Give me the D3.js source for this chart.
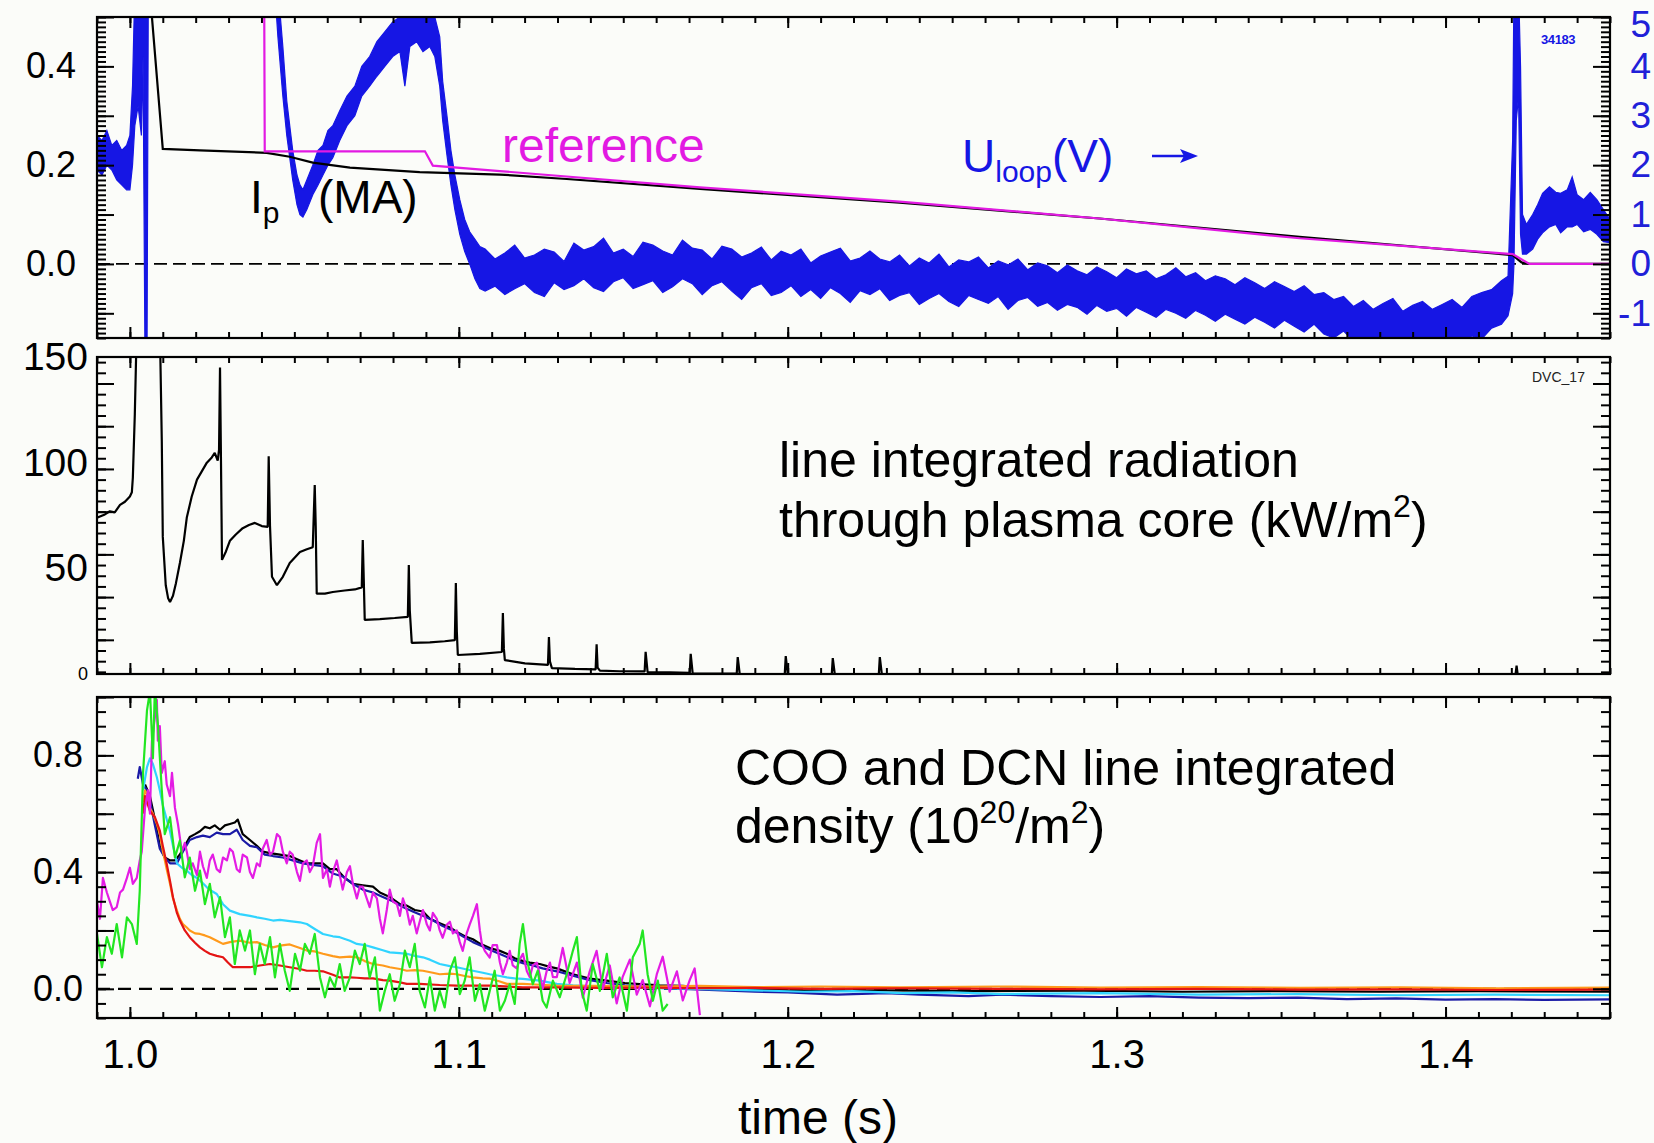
<!DOCTYPE html>
<html>
<head>
<meta charset="utf-8">
<script src="https://cdnjs.cloudflare.com/ajax/libs/d3/7.8.5/d3.min.js"></script>
<style>
body { margin: 0; background: #fbfcf9; }
svg { display: block; font-family: "Liberation Sans", Arial, sans-serif; }
</style>
</head>
<body>
<div id="chart"></div>
<script>
// ---- tick labels ----
var timeTicks = [1.0, 1.1, 1.2, 1.3, 1.4];
var ipTicks = [0.0, 0.2, 0.4];
var uloopTicks = [-1, 0, 1, 2, 3, 4, 5];
var radTicks = [0, 50, 100, 150];
var densTicks = [0.0, 0.4, 0.8];

// ---- top panel: plasma current (MA) and preprogrammed reference ----
var ipTrace = [[1.0060,0.55],[1.0067,0.50],[1.0100,0.233],[1.0213,0.230],[1.0416,0.225],[1.0486,0.217],
  [1.0556,0.205],[1.0669,0.195],[1.0881,0.186],[1.1125,0.181],[1.1328,0.172],[1.1733,0.152],[1.2340,0.124],
  [1.2948,0.092],[1.3556,0.055],[1.4204,0.018],[1.4231,0.003],[1.4255,0.0],[1.45,0.0]];

var refTrace = [[1.0408,0.6],[1.0410,0.228],[1.0897,0.228],[1.0921,0.199],[1.1125,0.188],[1.1733,0.155],
  [1.2340,0.126],[1.2948,0.092],[1.3556,0.052],[1.4204,0.020],[1.4255,0.0],[1.45,0.0]];

// loop voltage (V): [time, low edge, high edge] of the noisy trace
var uloopBand = [[0.9900,1.9,2.6],[0.9915,1.8,2.5],[0.9930,2.0,2.7],[0.9945,1.9,2.4],[0.9960,1.7,2.5],
  [0.9975,1.6,2.3],[0.9990,1.5,2.4],[1.0000,1.5,2.6],[1.0008,2.0,3.6],[1.0015,2.8,5.6],[1.0025,3.2,5.6],
  [1.0035,2.6,5.6],[1.0040,4.2,5.6],[1.0046,-2.0,5.6],[1.0052,-2.0,5.6],[1.0056,5.6,5.6],[1.0440,5.6,5.6],
  [1.0450,4.6,5.6],[1.0465,3.4,4.4],[1.0477,2.6,3.3],[1.0495,1.7,2.3],[1.0508,1.2,1.8],[1.0517,1.0,1.6],
  [1.0526,0.95,1.5],[1.0538,1.1,1.7],[1.0556,1.4,2.0],[1.0572,1.6,2.3],[1.0587,1.8,2.4],[1.0602,2.0,2.7],
  [1.0617,2.15,2.8],[1.0638,2.5,3.1],[1.0660,2.8,3.4],[1.0684,3.0,3.6],[1.0705,3.4,4.0],[1.0729,3.6,4.2],
  [1.0751,3.8,4.5],[1.0775,4.0,4.7],[1.0799,4.2,4.9],[1.0821,4.3,5.0],[1.0836,3.6,5.1],[1.0851,4.4,5.2],
  [1.0872,4.5,5.3],[1.0891,4.3,5.1],[1.0912,4.4,5.2],[1.0927,4.2,5.0],[1.0942,3.6,4.6],[1.0951,2.9,3.7],
  [1.0964,2.2,3.0],[1.0976,1.6,2.3],[1.0988,1.1,1.8],[1.1003,0.6,1.3],[1.1018,0.25,0.9],[1.1033,0.0,0.65],
  [1.1049,-0.3,0.5],[1.1064,-0.5,0.35],
  [1.108,-0.55,0.30],[1.111,-0.45,0.10],[1.114,-0.62,0.22],[1.117,-0.50,0.38],[1.120,-0.40,0.12],
  [1.123,-0.58,0.18],[1.126,-0.66,0.30],[1.129,-0.38,0.24],[1.132,-0.52,0.05],[1.135,-0.44,0.42],
  [1.138,-0.30,0.28],[1.141,-0.48,0.35],[1.144,-0.56,0.52],[1.147,-0.36,0.22],[1.150,-0.28,0.30],
  [1.153,-0.50,0.15],[1.156,-0.42,0.44],[1.159,-0.34,0.38],[1.162,-0.58,0.26],[1.165,-0.46,0.18],
  [1.168,-0.30,0.48],[1.171,-0.40,0.32],[1.174,-0.62,0.28],[1.177,-0.44,0.10],[1.180,-0.36,0.36],
  [1.183,-0.55,0.30],[1.186,-0.72,0.14],[1.189,-0.48,0.22],[1.192,-0.40,0.34],[1.195,-0.64,0.08],
  [1.198,-0.58,0.26],[1.201,-0.44,0.18],[1.204,-0.66,0.30],[1.207,-0.52,0.02],[1.210,-0.70,0.16],
  [1.213,-0.48,0.24],[1.216,-0.60,0.32],[1.219,-0.78,0.06],[1.222,-0.54,0.12],[1.225,-0.62,0.26],
  [1.228,-0.50,0.10],[1.231,-0.74,0.04],[1.234,-0.64,0.18],[1.237,-0.58,-0.04],[1.240,-0.82,0.12],
  [1.243,-0.70,0.02],[1.246,-0.60,0.20],[1.249,-0.76,-0.06],[1.252,-0.86,0.08],[1.255,-0.64,0.04],
  [1.258,-0.72,0.14],[1.261,-0.80,-0.08],[1.264,-0.66,0.06],[1.267,-0.92,-0.02],[1.270,-0.74,0.10],
  [1.273,-0.68,-0.12],[1.276,-0.86,0.02],[1.279,-0.78,-0.04],[1.282,-0.94,-0.18],[1.285,-0.82,-0.02],
  [1.288,-0.88,-0.14],[1.291,-1.02,-0.22],[1.294,-0.84,-0.06],[1.297,-0.96,-0.16],[1.300,-0.90,-0.28],
  [1.303,-1.06,-0.10],[1.306,-0.88,-0.20],[1.309,-0.98,-0.14],[1.312,-1.08,-0.30],[1.315,-0.92,-0.22],
  [1.318,-1.00,-0.08],[1.321,-1.10,-0.26],[1.324,-0.94,-0.18],[1.327,-1.04,-0.34],[1.330,-1.16,-0.24],
  [1.333,-1.02,-0.30],[1.336,-1.12,-0.42],[1.339,-1.22,-0.28],[1.342,-1.08,-0.38],[1.345,-1.18,-0.50],
  [1.348,-1.30,-0.36],[1.351,-1.14,-0.46],[1.354,-1.26,-0.56],[1.357,-1.38,-0.44],[1.360,-1.22,-0.62],
  [1.363,-1.42,-0.58],[1.366,-1.50,-0.72],[1.369,-1.36,-0.66],[1.372,-1.56,-0.86],[1.375,-1.62,-0.74],
  [1.378,-1.48,-0.92],[1.381,-1.60,-0.80],[1.384,-1.66,-0.70],[1.387,-1.54,-0.96],[1.390,-1.62,-0.84],
  [1.393,-1.58,-0.76],[1.396,-1.66,-0.92],[1.399,-1.52,-0.82],[1.402,-1.64,-0.72],[1.405,-1.58,-0.88],
  [1.408,-1.46,-0.66],[1.411,-1.52,-0.58],[1.414,-1.30,-0.52],[1.417,-1.22,-0.34],[1.419,-1.05,-0.25],
  [1.4204,-0.6,2.5],[1.4208,0.0,5.6],[1.4215,2.9,5.6],[1.4222,3.4,5.6],[1.4228,0.6,4.0],[1.4234,0.2,1.0],
  [1.4246,0.2,0.8],[1.4265,0.3,1.0],[1.4280,0.5,1.2],[1.4295,0.63,1.43],[1.4316,0.75,1.56],[1.4335,0.8,1.45],
  [1.4350,0.63,1.43],[1.4370,0.75,1.5],[1.4385,0.75,1.76],[1.4400,0.8,1.4],[1.4420,0.65,1.3],[1.4440,0.7,1.45],
  [1.4460,0.6,1.3],[1.4480,0.45,1.1],[1.4500,0.43,0.9]];

// ---- middle panel: line integrated radiation (kW/m2) ----
var radTrace = [[0.9900,74],[0.9924,75.5],[0.9939,77],[0.9954,76.5],[0.9970,80],[0.9985,81.5],[1.0000,84],
  [1.0006,86],[1.0009,93],[1.0015,123],[1.0021,165],[1.0091,165],[1.0097,110],[1.0100,65],[1.0109,42],
  [1.0116,36],[1.0122,34],[1.0131,37],[1.0140,43],[1.0152,52.5],[1.0164,63],[1.0173,74],[1.0188,84],
  [1.0204,92],[1.0219,96],[1.0234,100],[1.0249,102.5],[1.0258,104.6],[1.0267,101],[1.0271,106],[1.0274,145],
  [1.0277,100],[1.0280,54],[1.0292,58],[1.0304,63],[1.0322,66],[1.0343,69],[1.0362,70.5],[1.0380,71.5],
  [1.0401,70],[1.0419,69.6],[1.0422,103],[1.0426,70],[1.0432,46],[1.0447,42],[1.0465,46],[1.0486,52.5],
  [1.0517,57.7],[1.0538,59],[1.0556,60],[1.0559,75],[1.0562,89.4],[1.0565,70],[1.0568,38],[1.0593,38],
  [1.0617,38.8],[1.0653,39.5],[1.0684,40],[1.0705,41],[1.0708,63.4],[1.0711,45],[1.0714,25.6],[1.0760,26],
  [1.0805,26.5],[1.0845,27],[1.0848,51.6],[1.0851,30],[1.0857,14.7],[1.0912,15],[1.0957,15.5],[1.0988,16],
  [1.0991,43],[1.0994,20],[1.0997,9],[1.1064,9.5],[1.1131,10.4],[1.1134,28.9],[1.1137,12],[1.1140,6.6],
  [1.1201,5],[1.1271,4.3],[1.1274,17.5],[1.1277,6],[1.1283,2.8],[1.1353,2.4],[1.1416,2.2],[1.1419,14],
  [1.1422,3],[1.1429,1.6],[1.1489,1.3],[1.1565,1.2],[1.1568,10.5],[1.1574,0.9],[1.1641,0.8],[1.1702,0.5],
  [1.1705,9.5],[1.1711,0.3],[1.1845,0.2],[1.1848,8],[1.1854,0],[1.1991,0],[1.1994,8.5],[1.2000,0],
  [1.2134,0],[1.2137,7.5],[1.2143,0],[1.2277,0],[1.2280,8],[1.2286,0],[1.4213,0],[1.4216,4],[1.4219,0],[1.45,0]];

// ---- bottom panel: COO and DCN line integrated density (1e20/m2) ----
var densBlack = [[1.0046,0.70],[1.0061,0.66],[1.0076,0.58],[1.0091,0.49],[1.0106,0.45],[1.0122,0.44],
  [1.0137,0.44],[1.0152,0.46],[1.0167,0.49],[1.0182,0.52],[1.0198,0.53],[1.0213,0.54],[1.0228,0.555],
  [1.0243,0.55],[1.0258,0.56],[1.0274,0.545],[1.0289,0.56],[1.0304,0.565],[1.0319,0.57],[1.0328,0.58],
  [1.0343,0.53],[1.0365,0.51],[1.0386,0.49],[1.0404,0.47],[1.0426,0.465],[1.0456,0.46],[1.0486,0.455],
  [1.0517,0.44],[1.0538,0.43],[1.0562,0.43],[1.0587,0.43],[1.0608,0.41],[1.0629,0.41],[1.0653,0.38],
  [1.0678,0.36],[1.0708,0.355],[1.0739,0.35],[1.0760,0.33],[1.0790,0.315],[1.0821,0.29],[1.0842,0.285],
  [1.0866,0.27],[1.0891,0.265],[1.0912,0.24],[1.0942,0.225],[1.0973,0.21],[1.0994,0.195],[1.1018,0.18],
  [1.1043,0.17],[1.1064,0.155],[1.1094,0.14],[1.1125,0.13],[1.1146,0.12],[1.1170,0.105],[1.1195,0.095],
  [1.1216,0.09],[1.1246,0.085],[1.1277,0.075],[1.1298,0.07],[1.1347,0.05],[1.1398,0.035],[1.1450,0.028],
  [1.1505,0.02],[1.1550,0.016],[1.1611,0.012],[1.1681,0.01],[1.1733,0.005],[1.19,0.0],[1.20,-0.004],
  [1.23,-0.005],[1.26,-0.008],[1.29,-0.006],[1.32,-0.01],[1.35,-0.008],[1.38,-0.01],[1.41,-0.008],[1.45,-0.01]];

var densNavy = [[1.0024,0.72],[1.0030,0.76],[1.0040,0.70],[1.0052,0.68],[1.0061,0.645],[1.0076,0.56],
  [1.0091,0.48],[1.0106,0.45],[1.0122,0.43],[1.0143,0.43],[1.0161,0.47],[1.0182,0.51],[1.0204,0.52],
  [1.0222,0.525],[1.0243,0.52],[1.0264,0.535],[1.0283,0.53],[1.0304,0.53],[1.0325,0.545],[1.0343,0.51],
  [1.0365,0.49],[1.0386,0.485],[1.0410,0.46],[1.0435,0.455],[1.0465,0.45],[1.0495,0.44],[1.0526,0.43],
  [1.0556,0.425],[1.0587,0.42],[1.0617,0.395],[1.0647,0.385],[1.0678,0.36],[1.0708,0.34],[1.0739,0.33],
  [1.0769,0.315],[1.0799,0.30],[1.0830,0.28],[1.0860,0.265],[1.0891,0.25],[1.0921,0.235],[1.0951,0.215],
  [1.0982,0.20],[1.1012,0.18],[1.1043,0.16],[1.1073,0.145],[1.1103,0.13],[1.1134,0.115],[1.1164,0.10],
  [1.1195,0.088],[1.1225,0.08],[1.1255,0.07],[1.1298,0.06],[1.1347,0.045],[1.1398,0.03],[1.1450,0.02],
  [1.1505,0.012],[1.1581,0.005],[1.1681,0.0],[1.18,-0.005],[1.19,-0.01],[1.20,-0.012],[1.215,-0.02],
  [1.23,-0.015],[1.24,-0.02],[1.255,-0.025],[1.265,-0.02],[1.28,-0.025],[1.295,-0.028],[1.31,-0.025],
  [1.325,-0.03],[1.34,-0.032],[1.355,-0.03],[1.37,-0.035],[1.385,-0.033],[1.40,-0.037],[1.415,-0.035],
  [1.43,-0.038],[1.45,-0.036]];

var densCyan = [[1.0040,0.68],[1.0052,0.76],[1.0061,0.79],[1.0070,0.77],[1.0082,0.725],[1.0091,0.68],
  [1.0100,0.63],[1.0112,0.58],[1.0122,0.54],[1.0131,0.49],[1.0143,0.43],[1.0158,0.415],[1.0173,0.405],
  [1.0188,0.39],[1.0204,0.38],[1.0219,0.365],[1.0234,0.348],[1.0249,0.335],[1.0264,0.325],[1.0283,0.29],
  [1.0304,0.268],[1.0334,0.256],[1.0365,0.25],[1.0386,0.245],[1.0410,0.24],[1.0435,0.234],[1.0456,0.236],
  [1.0486,0.232],[1.0517,0.228],[1.0538,0.222],[1.0562,0.205],[1.0587,0.188],[1.0617,0.18],[1.0638,0.177],
  [1.0669,0.165],[1.0690,0.154],[1.0714,0.15],[1.0739,0.142],[1.0769,0.132],[1.0790,0.125],[1.0821,0.122],
  [1.0842,0.12],[1.0866,0.113],[1.0891,0.108],[1.0912,0.10],[1.0942,0.085],[1.0973,0.078],[1.0994,0.074],
  [1.1018,0.068],[1.1043,0.062],[1.1073,0.055],[1.1094,0.05],[1.1125,0.044],[1.1146,0.039],[1.1170,0.036],
  [1.1195,0.034],[1.1246,0.028],[1.1298,0.017],[1.1347,0.012],[1.1429,0.008],[1.1550,0.003],[1.1733,0.0],
  [1.19,-0.005],[1.205,-0.01],[1.22,-0.008],[1.235,-0.015],[1.25,-0.012],[1.265,-0.018],[1.295,-0.015],
  [1.325,-0.02],[1.355,-0.018],[1.385,-0.022],[1.415,-0.02],[1.45,-0.022]];

var densOrange = [[1.0040,0.64],[1.0046,0.68],[1.0055,0.66],[1.0061,0.62],[1.0070,0.60],[1.0082,0.565],
  [1.0091,0.53],[1.0100,0.474],[1.0112,0.41],[1.0122,0.36],[1.0131,0.31],[1.0143,0.268],[1.0152,0.24],
  [1.0161,0.222],[1.0173,0.21],[1.0182,0.20],[1.0198,0.19],[1.0213,0.188],[1.0228,0.183],[1.0243,0.177],
  [1.0264,0.165],[1.0283,0.154],[1.0304,0.16],[1.0334,0.165],[1.0365,0.158],[1.0386,0.16],[1.0410,0.15],
  [1.0435,0.142],[1.0456,0.148],[1.0486,0.152],[1.0517,0.14],[1.0538,0.131],[1.0562,0.128],[1.0587,0.12],
  [1.0617,0.112],[1.0638,0.108],[1.0669,0.11],[1.0690,0.108],[1.0714,0.095],[1.0739,0.085],[1.0769,0.08],
  [1.0790,0.074],[1.0821,0.068],[1.0842,0.062],[1.0866,0.064],[1.0891,0.062],[1.0921,0.055],[1.0942,0.05],
  [1.0973,0.052],[1.0994,0.05],[1.1018,0.044],[1.1043,0.039],[1.1073,0.036],[1.1094,0.035],[1.1125,0.025],
  [1.1146,0.017],[1.1195,0.017],[1.1246,0.014],[1.1298,0.011],[1.1429,0.01],[1.1581,0.008],[1.1733,0.01],
  [1.19,0.006],[1.21,0.008],[1.234,0.005],[1.264,0.008],[1.295,0.004],[1.325,0.006],[1.356,0.003],
  [1.386,0.005],[1.416,0.002],[1.45,0.004]];

var densRed = [[1.0040,0.60],[1.0046,0.66],[1.0052,0.64],[1.0061,0.61],[1.0076,0.588],[1.0091,0.542],
  [1.0100,0.49],[1.0112,0.428],[1.0122,0.37],[1.0131,0.314],[1.0143,0.26],[1.0152,0.234],[1.0167,0.20],
  [1.0182,0.177],[1.0198,0.158],[1.0213,0.142],[1.0228,0.13],[1.0243,0.12],[1.0264,0.113],[1.0283,0.108],
  [1.0298,0.09],[1.0313,0.074],[1.0334,0.074],[1.0365,0.074],[1.0395,0.08],[1.0426,0.085],[1.0456,0.08],
  [1.0486,0.074],[1.0517,0.068],[1.0538,0.062],[1.0562,0.062],[1.0587,0.06],[1.0617,0.048],[1.0638,0.039],
  [1.0669,0.039],[1.0690,0.038],[1.0714,0.036],[1.0739,0.036],[1.0769,0.03],[1.0790,0.028],[1.0821,0.022],
  [1.0842,0.017],[1.0881,0.017],[1.0942,0.013],[1.0994,0.011],[1.1094,0.011],[1.1195,0.005],[1.1298,0.005],
  [1.1429,0.003],[1.1581,0.004],[1.1733,0.002],[1.19,0.003],[1.21,0.0],[1.234,0.002],[1.264,0.0],
  [1.295,-0.002],[1.325,0.0],[1.356,-0.003],[1.386,-0.002],[1.416,-0.004],[1.45,-0.003]];

var densMagenta = [[0.9900,0.30],[0.9909,0.24],[0.9918,0.38],[0.9930,0.33],[0.9939,0.30],[0.9948,0.27],
  [0.9960,0.28],[0.9970,0.33],[0.9979,0.34],[0.9991,0.38],[1.0000,0.415],[1.0009,0.36],[1.0021,0.38],
  [1.0030,0.44],[1.0036,0.47],[1.0046,0.62],[1.0055,0.68],[1.0061,0.60],[1.0067,0.85],[1.0076,0.93],
  [1.0082,0.99],[1.0085,0.85],[1.0091,0.90],[1.0097,0.74],[1.0106,0.78],[1.0112,0.70],[1.0122,0.66],
  [1.0128,0.74],[1.0137,0.62],[1.0146,0.565],[1.0158,0.47],[1.0167,0.50],[1.0173,0.47],[1.0182,0.41],
  [1.0191,0.43],[1.0204,0.39],[1.0213,0.47],[1.0222,0.42],[1.0234,0.38],[1.0243,0.44],[1.0252,0.46],
  [1.0264,0.41],[1.0274,0.40],[1.0283,0.45],[1.0295,0.44],[1.0304,0.48],[1.0313,0.47],[1.0325,0.41],
  [1.0334,0.40],[1.0343,0.46],[1.0356,0.45],[1.0365,0.40],[1.0374,0.38],[1.0386,0.43],[1.0395,0.42],
  [1.0404,0.48],[1.0416,0.51],[1.0426,0.46],[1.0435,0.47],[1.0447,0.53],[1.0456,0.52],[1.0465,0.47],
  [1.0477,0.43],[1.0486,0.47],[1.0495,0.46],[1.0508,0.40],[1.0517,0.37],[1.0526,0.43],[1.0538,0.44],
  [1.0547,0.40],[1.0556,0.42],[1.0568,0.50],[1.0578,0.53],[1.0587,0.38],[1.0599,0.41],[1.0608,0.35],
  [1.0617,0.40],[1.0629,0.44],[1.0638,0.39],[1.0647,0.34],[1.0660,0.40],[1.0669,0.42],[1.0678,0.36],
  [1.0690,0.31],[1.0699,0.35],[1.0708,0.35],[1.0720,0.31],[1.0729,0.28],[1.0739,0.33],[1.0751,0.31],
  [1.0760,0.24],[1.0769,0.19],[1.0781,0.27],[1.0790,0.34],[1.0799,0.30],[1.0812,0.29],[1.0821,0.25],
  [1.0830,0.31],[1.0842,0.27],[1.0851,0.22],[1.0860,0.25],[1.0872,0.19],[1.0881,0.23],[1.0891,0.27],
  [1.0903,0.22],[1.0912,0.20],[1.0921,0.26],[1.0933,0.24],[1.0942,0.20],[1.0951,0.175],[1.0964,0.22],
  [1.0973,0.23],[1.0982,0.19],[1.0994,0.20],[1.1003,0.16],[1.1012,0.13],[1.1024,0.19],[1.1033,0.22],
  [1.1043,0.25],[1.1055,0.29],[1.1064,0.20],[1.1070,0.155],[1.1079,0.13],[1.1094,0.107],[1.1103,0.15],
  [1.1116,0.15],[1.1125,0.09],[1.1134,0.05],[1.1146,0.09],[1.1155,0.13],[1.1164,0.08],[1.1176,0.07],
  [1.1185,0.10],[1.1195,0.12],[1.1207,0.06],[1.1216,0.04],[1.1225,0.08],[1.1237,0.09],[1.1246,0.05],
  [1.1255,0.00],[1.1267,0.06],[1.1277,0.09],[1.1286,0.04],[1.1298,0.04],[1.1316,0.14],[1.1337,0.02],
  [1.1359,0.09],[1.1377,-0.03],[1.1398,0.06],[1.1419,0.13],[1.1438,0.00],[1.1459,0.08],[1.1480,-0.05],
  [1.1498,0.04],[1.1520,0.10],[1.1541,-0.02],[1.1559,0.03],[1.1581,-0.06],[1.1602,0.05],[1.1620,0.11],
  [1.1641,-0.01],[1.1663,0.06],[1.1681,-0.04],[1.1702,0.03],[1.1717,0.07],[1.1733,-0.09]];

var densGreen = [[0.9900,0.188],[0.9915,0.074],[0.9930,0.177],[0.9945,0.12],[0.9960,0.222],[0.9976,0.108],
  [0.9991,0.245],[1.0006,0.222],[1.0021,0.154],[1.0030,0.336],[1.0040,0.74],[1.0052,0.954],[1.0061,1.02],
  [1.0070,0.79],[1.0076,1.03],[1.0085,0.908],[1.0097,0.68],[1.0106,0.53],[1.0122,0.588],[1.0137,0.45],
  [1.0152,0.508],[1.0167,0.382],[1.0182,0.45],[1.0198,0.336],[1.0213,0.405],[1.0228,0.29],[1.0243,0.36],
  [1.0258,0.245],[1.0274,0.314],[1.0289,0.177],[1.0304,0.245],[1.0319,0.085],[1.0334,0.2],[1.0350,0.131],
  [1.0365,0.2],[1.0380,0.05],[1.0395,0.154],[1.0410,0.085],[1.0426,0.177],[1.0441,0.039],[1.0456,0.154],
  [1.0471,0.062],[1.0486,-0.007],[1.0502,0.12],[1.0517,0.062],[1.0532,0.154],[1.0547,0.12],[1.0562,0.188],
  [1.0578,0.039],[1.0593,-0.029],[1.0608,0.039],[1.0623,0.005],[1.0638,0.085],[1.0653,-0.007],[1.0669,0.039],
  [1.0684,0.131],[1.0699,0.085],[1.0714,0.154],[1.0729,0.039],[1.0745,0.108],[1.0760,-0.075],[1.0775,-0.007],
  [1.0790,0.05],[1.0805,-0.041],[1.0821,0.016],[1.0836,0.131],[1.0851,0.074],[1.0866,0.154],[1.0881,-0.007],
  [1.0897,-0.064],[1.0912,0.039],[1.0927,-0.075],[1.0942,-0.007],[1.0957,-0.064],[1.0973,0.062],[1.0988,0.108],
  [1.1003,-0.018],[1.1018,0.028],[1.1033,0.108],[1.1049,-0.041],[1.1064,0.016],[1.1079,-0.075],[1.1094,-0.007],
  [1.1109,0.062],[1.1125,-0.075],[1.1140,-0.041],[1.1155,0.016],[1.1170,-0.052],[1.1185,0.154],[1.1195,0.222],
  [1.1210,0.085],[1.1225,0.016],[1.1240,0.062],[1.1255,-0.041],[1.1267,-0.064],[1.1286,0.028],[1.1307,-0.029],
  [1.1328,0.05],[1.1347,0.131],[1.1359,0.177],[1.1374,-0.007],[1.1389,-0.075],[1.1407,0.085],[1.1429,-0.007],
  [1.1450,0.12],[1.1468,-0.029],[1.1489,0.039],[1.1511,-0.075],[1.1529,0.108],[1.1550,0.154],[1.1559,0.2],
  [1.1574,0.05],[1.1590,-0.041],[1.1605,0.028],[1.1620,-0.075],[1.1635,-0.052]];

// ---- layout ----
var W = 1654, H = 1143;
var left = 97, right = 1610;
var blue = "#1616e4", magenta = "#e21ae2";

var svg = d3.select("#chart").append("svg")
    .attr("width", W)
    .attr("height", H);

svg.append("rect").attr("width", W).attr("height", H).attr("fill", "#fbfcf9");

var defs = svg.append("defs");

var x = d3.scaleLinear().domain([0.99, 1.45]).range([left, right]);

var yIp = d3.scaleLinear().domain([-0.15, 0.5]).range([338, 17]);
var yU = d3.scaleLinear().domain([-1.5, 5]).range([338, 17]);
var yRad = d3.scaleLinear().domain([0, 150]).range([674, 357]);
// the radiation frame carries its own tick marks, not aligned with the labels
var yRadFrame = d3.scaleLinear().domain([-0.8, 6.62]).range([674, 357]);
var yDen = d3.scaleLinear().domain([-0.1, 1.0]).range([1018, 697]);

function clipFor(id, yScale){
    var r = yScale.range();
    defs.append("clipPath").attr("id", id).append("rect")
        .attr("x", left).attr("y", r[1])
        .attr("width", right - left).attr("height", r[0] - r[1]);
    return "url(#" + id + ")";
}

function ticks(axis, values, size, transform){
    svg.append("g")
        .attr("transform", transform)
        .call(axis.tickValues(values).tickSize(size).tickFormat(""))
        .call(function(g){
            g.select(".domain").remove();
            g.selectAll("line").attr("stroke", "#000").attr("stroke-width", 2);
        });
}

function frame(leftScale, leftMajor, leftMinor, rightScale, rightMajor, rightMinor){
    var r = leftScale.range();
    var top = r[1], bottom = r[0];
    var xMinor = x.ticks(46), xMajor = x.ticks(5);
    ticks(d3.axisBottom(x), xMinor, 6, "translate(0," + top + ")");
    ticks(d3.axisBottom(x), xMajor, 11, "translate(0," + top + ")");
    ticks(d3.axisTop(x), xMinor, 6, "translate(0," + bottom + ")");
    ticks(d3.axisTop(x), xMajor, 11, "translate(0," + bottom + ")");
    ticks(d3.axisRight(leftScale), leftMinor, 9, "translate(" + left + ",0)");
    ticks(d3.axisRight(leftScale), leftMajor, 17, "translate(" + left + ",0)");
    ticks(d3.axisLeft(rightScale), rightMinor, 9, "translate(" + right + ",0)");
    ticks(d3.axisLeft(rightScale), rightMajor, 17, "translate(" + right + ",0)");
    svg.append("rect")
        .attr("x", left).attr("y", top)
        .attr("width", right - left).attr("height", bottom - top)
        .attr("fill", "none").attr("stroke", "#000").attr("stroke-width", 2.2);
}

function labels(axis, values, fmt, transform, size, color){
    var g = svg.append("g")
        .attr("transform", transform)
        .call(axis.tickValues(values).tickFormat(fmt).tickSize(0));
    g.select(".domain").remove();
    g.selectAll("text")
        .attr("font-family", "Liberation Sans, Arial, sans-serif")
        .attr("font-size", size)
        .attr("fill", color || "#000");
    return g;
}

function lineFor(yScale){
    return d3.line()
        .x(function(d){ return x(d[0]); })
        .y(function(d){ return yScale(d[1]); });
}

// ================= top panel =================
var clipTop = clipFor("clipTop", yIp);
var gTop = svg.append("g").attr("clip-path", clipTop);

gTop.append("line")
    .attr("x1", left).attr("x2", right)
    .attr("y1", yIp(0)).attr("y2", yIp(0))
    .attr("stroke", "#000").attr("stroke-width", 1.6)
    .attr("stroke-dasharray", "13,6");

gTop.append("path")
    .datum(uloopBand)
    .attr("d", d3.area()
        .x(function(d){ return x(d[0]); })
        .y0(function(d){ return yU(d[1]); })
        .y1(function(d){ return yU(d[2]); }))
    .attr("fill", blue)
    .attr("stroke", blue)
    .attr("stroke-width", 1.2);

gTop.append("path")
    .datum(ipTrace)
    .attr("d", lineFor(yIp))
    .attr("fill", "none").attr("stroke", "#000").attr("stroke-width", 2.2);

gTop.append("path")
    .datum(refTrace)
    .attr("d", lineFor(yIp))
    .attr("fill", "none").attr("stroke", magenta).attr("stroke-width", 2.2);

frame(yIp, d3.range(-0.1, 0.51, 0.1), d3.range(-0.15, 0.501, 0.01),
      yU, d3.range(-1, 5.01, 1), d3.range(-1.5, 5.01, 0.1));

labels(d3.axisLeft(yIp), ipTicks, d3.format(".1f"), "translate(" + left + ",0)", 36)
    .selectAll("text").attr("x", -21);
var uLab = labels(d3.axisRight(yU), uloopTicks, function(d){ return String(d); }, "translate(" + right + ",0)", 37, "#2020d8");
uLab.selectAll("text").attr("x", 41).attr("text-anchor", "end");
// the top label sits a little below its tick so that it stays inside the page
uLab.selectAll(".tick").filter(function(d){ return d === 5; })
    .select("text").attr("dy", "0.52em");

svg.append("text").attr("x", 250).attr("y", 213).attr("font-size", 46)
    .text("I")
    .append("tspan").attr("font-size", 30).attr("dy", 10).text("p");
svg.append("text").attr("x", 318).attr("y", 213).attr("font-size", 46).text("(MA)");

svg.append("text").attr("x", 502).attr("y", 162).attr("font-size", 48)
    .attr("fill", magenta).text("reference");

var uText = svg.append("text").attr("x", 962).attr("y", 172).attr("font-size", 46).attr("fill", blue);
uText.append("tspan").text("U");
uText.append("tspan").attr("font-size", 30).attr("dy", 10).text("loop");
uText.append("tspan").attr("dy", -10).text("(V)");

svg.append("line")
    .attr("x1", 1152).attr("x2", 1186).attr("y1", 156).attr("y2", 156)
    .attr("stroke", blue).attr("stroke-width", 2.5);
svg.append("path")
    .attr("d", "M1198,156 L1180,149 L1184,156 L1180,163 Z")
    .attr("fill", blue);

svg.append("text").attr("x", 1541).attr("y", 44)
    .attr("font-size", 13).attr("font-weight", "bold").attr("fill", blue)
    .attr("letter-spacing", -0.4)
    .text("34183");

// ================= middle panel =================
var clipMid = clipFor("clipMid", yRad);
svg.append("g").attr("clip-path", clipMid)
    .append("path")
    .datum(radTrace)
    .attr("d", lineFor(yRad))
    .attr("fill", "none").attr("stroke", "#000").attr("stroke-width", 2.2)
    .attr("stroke-linejoin", "bevel");

frame(yRadFrame, d3.range(0, 6.62, 1), d3.range(-0.75, 6.62, 0.25),
      yRadFrame, d3.range(0, 6.62, 1), d3.range(-0.75, 6.62, 0.25));

var radLab = labels(d3.axisLeft(yRad), radTicks, function(d){ return String(d); }, "translate(" + left + ",0)", 39);
radLab.selectAll("text").attr("x", -9);
radLab.selectAll(".tick").filter(function(d){ return d === 0; })
    .select("text").attr("font-size", 18);

svg.append("text").attr("x", 1532).attr("y", 382)
    .attr("font-size", 14).attr("fill", "#222").text("DVC_17");

var radText = svg.append("g").attr("font-size", 50);
radText.append("text").attr("x", 779).attr("y", 477).text("line integrated radiation");
var rt2 = radText.append("text").attr("x", 779).attr("y", 537);
rt2.append("tspan").text("through plasma core (kW/m");
rt2.append("tspan").attr("font-size", 32).attr("dy", -20).text("2");
rt2.append("tspan").attr("dy", 20).text(")");

// ================= bottom panel =================
var clipBot = clipFor("clipBot", yDen);
var gBot = svg.append("g").attr("clip-path", clipBot);

gBot.append("line")
    .attr("x1", left).attr("x2", right)
    .attr("y1", yDen(0)).attr("y2", yDen(0))
    .attr("stroke", "#000").attr("stroke-width", 2.2)
    .attr("stroke-dasharray", "13,8");

var densSeries = [
    { data: densBlack, color: "#000000" },
    { data: densNavy, color: "#1a1aa6" },
    { data: densCyan, color: "#30d4ff" },
    { data: densOrange, color: "#ff9a1c" },
    { data: densRed, color: "#e41414" },
    { data: densMagenta, color: "#e41ce4" },
    { data: densGreen, color: "#22e622" }
];

gBot.selectAll(".dens")
    .data(densSeries)
    .enter().append("path")
    .attr("class", "dens")
    .attr("d", function(d){ return lineFor(yDen)(d.data); })
    .attr("fill", "none")
    .attr("stroke", function(d){ return d.color; })
    .attr("stroke-width", 2.2)
    .attr("stroke-linejoin", "round");

frame(yDen, d3.range(0, 1.01, 0.2), d3.range(-0.1, 1.001, 0.05),
      yDen, d3.range(0, 1.01, 0.2), d3.range(-0.1, 1.001, 0.05));

labels(d3.axisLeft(yDen), densTicks, d3.format(".1f"), "translate(" + left + ",0)", 36)
    .selectAll("text").attr("x", -14);

var denText = svg.append("g").attr("font-size", 50);
denText.append("text").attr("x", 735).attr("y", 785).text("COO and DCN line integrated");
var dt2 = denText.append("text").attr("x", 735).attr("y", 843);
dt2.append("tspan").text("density (10");
dt2.append("tspan").attr("font-size", 32).attr("dy", -20).text("20");
dt2.append("tspan").attr("dy", 20).text("/m");
dt2.append("tspan").attr("font-size", 32).attr("dy", -20).text("2");
dt2.append("tspan").attr("dy", 20).text(")");

// ================= time axis =================
labels(d3.axisBottom(x), timeTicks, d3.format(".1f"), "translate(0,1018)", 40)
    .selectAll("text").attr("y", 22);

svg.append("text")
    .attr("x", 818).attr("y", 1134)
    .attr("text-anchor", "middle")
    .attr("font-size", 48)
    .text("time (s)");
</script>
</body>
</html>
